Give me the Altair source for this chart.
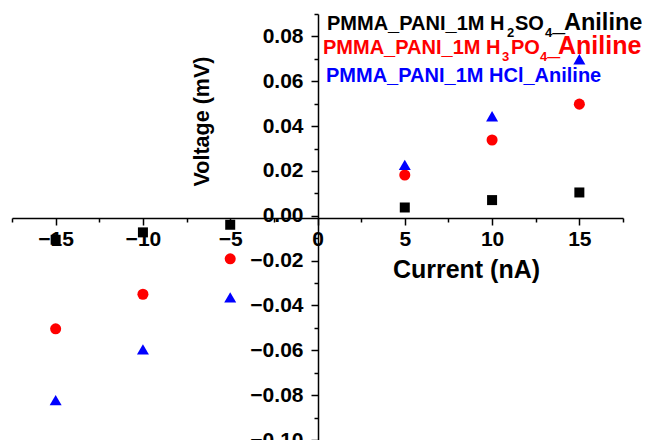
import altair as alt
import pandas as pd

# ---- data ----
current = [-15, -10, -5, 5, 10, 15]
v_h2so4 = [-0.0107, -0.0074, -0.0040, 0.0037, 0.0070, 0.0104]
v_h3po4 = [-0.0504, -0.0350, -0.0192, 0.0182, 0.0338, 0.0498]
v_hcl = [-0.0822, -0.0596, -0.0364, 0.0227, 0.0444, 0.0698]
series_names = ["PMMA_PANI_1M H2SO4_Aniline", "PMMA_PANI_1M H3PO4_Aniline", "PMMA_PANI_1M HCl_Aniline"]
series_colors = ["#000000", "#ff0000", "#0000ff"]
series_shapes = ["square", "circle", "triangle-up"]

x_ticks = [-15, -10, -5, 0, 5, 10, 15]
x_minor = [-17.5, -12.5, -7.5, -2.5, 2.5, 7.5, 12.5, 17.5]
y_ticks = [-0.10, -0.08, -0.06, -0.04, -0.02, 0.00, 0.02, 0.04, 0.06, 0.08]
y_minor = [-0.09, -0.07, -0.05, -0.03, -0.01, 0.01, 0.03, 0.05, 0.07, 0.09]

rows = []
for name, vals in zip(series_names, [v_h2so4, v_h3po4, v_hcl]):
    for c, v in zip(current, vals):
        rows.append({"current": c, "voltage": v, "series": name})
df = pd.DataFrame(rows)

FONT = "Liberation Sans"
OX, OY = 12, 14            # page position of the plot area's top-left corner
W, H = 611, 426
XLINE = 218                # page y of the horizontal axis line
XOFF = -(OY + H - XLINE)   # x axis drawn across the plot
YOFF = -306                # y axis drawn at x = 0

xscale = alt.Scale(domain=[-17.5, 17.5], nice=False, zero=False)
yscale = alt.Scale(domain=[-0.10, 0.09], nice=False, zero=False)

common_axis = dict(grid=False, domainColor="black", tickColor="black", labelColor="black",
                   domainWidth=1.5, tickWidth=1.5, labelFont=FONT, labelFontWeight="bold",
                   labelOverlap=False, labelFlush=False)

main_x = alt.Axis(orient="bottom", offset=XOFF, values=x_ticks, tickSize=7, labelFontSize=21,
                  labelPadding=3, format="d", title="Current (nA)", titleFont=FONT,
                  titleFontSize=25, titleFontWeight="bold", titleColor="black",
                  titleX=466 - OX, titleY=277 - XLINE, titleAlign="center",
                  titleBaseline="alphabetic", **common_axis)
main_y = alt.Axis(orient="left", offset=YOFF, values=y_ticks, tickSize=7, labelFontSize=21,
                  labelPadding=8, format=".2f", title="Voltage (mV)", titleFont=FONT,
                  titleFontSize=21.5, titleFontWeight="bold", titleColor="black",
                  titleX=-110, titleY=121 - OY, titleAlign="center", titleAngle=-90,
                  titleBaseline="alphabetic", **common_axis)
minor_x = alt.Axis(orient="bottom", offset=XOFF, values=x_minor, tickSize=4, labels=False,
                   domain=False, title=None, grid=False, tickColor="black", tickWidth=1.5)
minor_y = alt.Axis(orient="left", offset=YOFF, values=y_minor, tickSize=4, labels=False,
                   domain=False, title=None, grid=False, tickColor="black", tickWidth=1.5)

minor = alt.Chart(df).mark_point(opacity=0).encode(
    x=alt.X("current:Q", scale=xscale, axis=minor_x),
    y=alt.Y("voltage:Q", scale=yscale, axis=minor_y),
)

points = alt.Chart(df).mark_point(filled=True, opacity=1, strokeWidth=0).encode(
    x=alt.X("current:Q", scale=xscale, axis=main_x),
    y=alt.Y("voltage:Q", scale=yscale, axis=main_y),
    color=alt.Color("series:N", scale=alt.Scale(domain=series_names, range=series_colors), legend=None),
    shape=alt.Shape("series:N", scale=alt.Scale(domain=series_names, range=series_shapes), legend=None),
    size=alt.Size("series:N", scale=alt.Scale(domain=series_names, range=[100, 144, 165]), legend=None),
)

# ---- legend text with subscripts (page pixel coordinates shifted to the plot area) ----
def txt(s, x, y, color, size):
    return alt.Chart(df).mark_text(text=s, align="left", baseline="alphabetic", font=FONT,
                                   fontWeight="bold", fontSize=size, color=color).encode(
        x=alt.value(x - OX), y=alt.value(y - OY)
    ).transform_filter("datum.current == 15 && datum.series == '%s'" % series_names[0])

legend = [
    txt("PMMA_PANI_1M H", 327, 30, "black", 20),
    txt("2", 507, 37, "black", 13),
    txt("SO", 515, 30, "black", 20),
    txt("4\u2014", 545, 37, "black", 13),
    txt("Aniline", 564, 30, "black", 23.5),
    txt("PMMA_PANI_1M H", 323, 54, "#ff0000", 20),
    txt("3", 502, 61, "#ff0000", 13),
    txt("PO", 511, 54, "#ff0000", 20),
    txt("4\u2014", 540, 61, "#ff0000", 13),
    txt("Aniline", 558, 54, "#ff0000", 25),
    txt("PMMA_PANI_1M HCl_Aniline", 326, 81.5, "#0000ff", 20),
]

chart = alt.layer(minor, points, *legend).resolve_axis(
    x="independent", y="independent"
).properties(
    width=W, height=H,
    autosize=alt.AutoSizeParams(type="none"),
    padding={"left": OX - 8, "top": OY - 8, "right": 19, "bottom": 0},
).configure_view(stroke=None)

chart.save("out.html", embed_options={"renderer": "svg", "actions": False})
